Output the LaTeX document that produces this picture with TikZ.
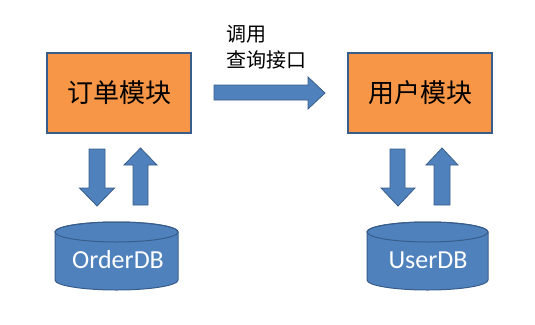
\documentclass[tikz,border=0pt]{standalone}
\usepackage{fontspec}
\newfontfamily\cjk{Noto Sans CJK SC}
\newfontfamily\latinsans{Carlito}
\definecolor{boxorange}{HTML}{F79646}
\definecolor{edgeblue}{HTML}{385D8A}
\definecolor{fillblue}{HTML}{4F81BD}
\begin{document}
\begin{tikzpicture}[x=1pt,y=-1pt,
  modbox/.style={draw=edgeblue,line width=2.2pt,fill=boxorange,minimum width=144pt,minimum height=80pt,inner sep=0pt,font=\cjk\fontsize{26}{30}\selectfont},
  blockarrow/.style={fill=fillblue,draw=edgeblue,line width=0.8pt,line join=miter},
  cylbody/.style={fill=fillblue,draw=edgeblue,line width=1pt},
  dblabel/.style={text=white,font=\latinsans\fontsize{26}{30}\selectfont,inner sep=0pt}
]
\useasboundingbox (0,0) rectangle (535,324);
% module boxes
\node[modbox] (order) at (119,93) {订单模块};
\node[modbox] (user) at (420,93) {用户模块};
% call label
\node[anchor=north west,align=left,inner sep=0pt,font=\cjk\fontsize{20}{26}\selectfont] (call) at (226,25) {调用\\查询接口};
% horizontal arrow
\fill[blockarrow] (214,85) -- (308,85) -- (308,77) -- (325,93) -- (308,109) -- (308,100) -- (214,100) -- cycle;
% left arrows
\fill[blockarrow] (89,149) -- (105,149) -- (105,188) -- (114.5,188) -- (97,206) -- (79.5,188) -- (89,188) -- cycle;
\fill[blockarrow] (133,205) -- (148,205) -- (148,165) -- (157,165) -- (140.5,148) -- (124,165) -- (133,165) -- cycle;
% right arrows
\fill[blockarrow] (390,149) -- (405,149) -- (405,188) -- (415,188) -- (398,206) -- (381,188) -- (390,188) -- cycle;
\fill[blockarrow] (434,205) -- (450,205) -- (450,165) -- (458,165) -- (442,148) -- (426,165) -- (434,165) -- cycle;
% cylinders
\foreach \cx/\rx in {116.5/61.5, 427.5/60.5}{
  \path[cylbody] (\cx-\rx,232) -- (\cx-\rx,280) arc[start angle=180,end angle=0,x radius=\rx,y radius=10] -- (\cx+\rx,232) arc[start angle=0,end angle=-180,x radius=\rx,y radius=10] -- cycle;
  \draw[edgeblue,line width=1pt] (\cx,232) ellipse[x radius=\rx,y radius=10];
}
\node[dblabel] (orderdb) at (118,260) {OrderDB};
\node[dblabel] (userdb) at (428,260) {UserDB};
\end{tikzpicture}
\end{document}
